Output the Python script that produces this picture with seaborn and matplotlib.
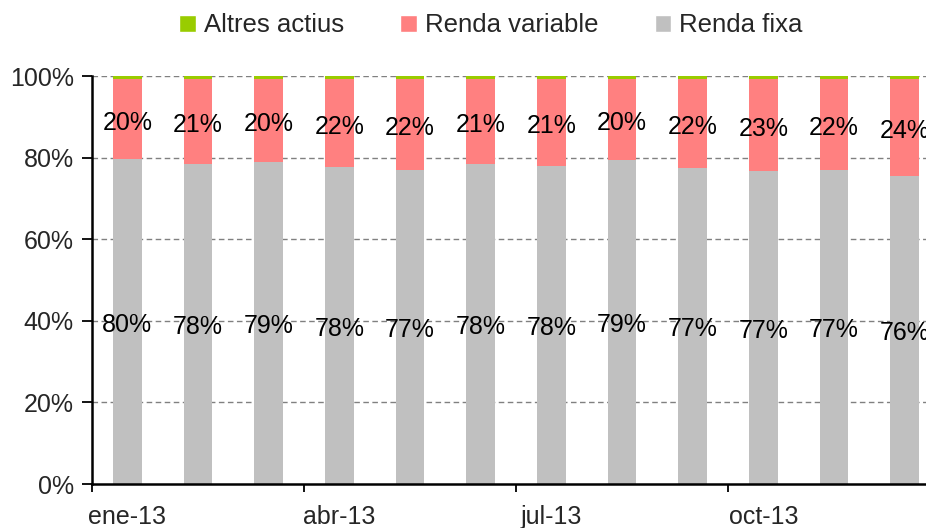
import matplotlib
matplotlib.use("Agg")
import matplotlib.pyplot as plt
import seaborn as sns
import pandas as pd
import numpy as np
from matplotlib.patches import Patch

months = ["ene-13", "feb-13", "mar-13", "abr-13", "may-13", "jun-13",
          "jul-13", "ago-13", "sep-13", "oct-13", "nov-13", "dic-13"]
renda_fixa = [79.6, 78.4, 79.0, 77.6, 77.0, 78.4, 78.0, 79.4, 77.4, 76.6, 77.0, 75.6]
renda_variable = [19.6, 20.8, 20.2, 21.6, 22.2, 20.8, 21.2, 19.8, 21.8, 22.6, 22.2, 23.6]
altres_actius = [0.8, 0.8, 0.8, 0.8, 0.8, 0.8, 0.8, 0.8, 0.8, 0.8, 0.8, 0.8]
tick_months = ["ene-13", "abr-13", "jul-13", "oct-13"]

c_green = "#99CC00"
c_red = "#FF8080"
c_grey = "#C0C0C0"

sns.set_theme(style="white")
plt.rcParams["font.family"] = ["Liberation Sans", "DejaVu Sans"]

df = pd.DataFrame({"month": months, "fixa": renda_fixa,
                   "variable": renda_variable, "altres": altres_actius})
df["cum_var"] = df["fixa"] + df["variable"]
df["cum_all"] = df["cum_var"] + df["altres"]

fig = plt.figure(figsize=(9.26, 5.28), dpi=100)
ax = fig.add_axes([92 / 926, 44 / 528, (940 - 92) / 926, 408 / 528])

w = 0.41
sns.barplot(data=df, x="month", y="cum_all", color=c_green, width=w, ax=ax,
            saturation=1, zorder=2, linewidth=0)
sns.barplot(data=df, x="month", y="cum_var", color=c_red, width=w, ax=ax,
            saturation=1, zorder=3, linewidth=0)
sns.barplot(data=df, x="month", y="fixa", color=c_grey, width=w, ax=ax,
            saturation=1, zorder=4, linewidth=0)

fs = 18
for i, row in df.iterrows():
    ax.text(i, row["fixa"] + row["variable"] / 2 - 0.8, f"{row['variable']:.0f}%",
            ha="center", va="center", fontsize=fs, zorder=6, color="black")
    ax.text(i, row["fixa"] / 2 - 0.8, f"{row['fixa']:.0f}%",
            ha="center", va="center", fontsize=fs, zorder=6, color="black")

ax.set_xlim(-0.5, 11.5)
ax.set_ylim(0, 100)
ax.set_yticks([0, 20, 40, 60, 80, 100])
ax.set_yticklabels([f"{v}%" for v in [0, 20, 40, 60, 80, 100]], fontsize=fs)
for y in [20, 40, 60, 80, 100]:
    ax.axhline(y, color="#808080", linestyle=(0, (4, 2.5)), linewidth=1, zorder=1)

# major ticks at quarter boundaries, labels on minor positions
ax.set_xticks([-0.5, 2.5, 5.5, 8.5, 11.5])
ax.set_xticklabels([])
ax.set_xticks([0, 3, 6, 9], minor=True)
ax.set_xticklabels(tick_months, minor=True, fontsize=fs)
ax.tick_params(axis="x", which="major", direction="out", length=6, width=1.3,
               color="black", bottom=True)
ax.tick_params(axis="x", which="minor", length=0, pad=15)
ax.tick_params(axis="y", direction="out", length=7, width=1.3, color="black",
               left=True, pad=6)
ax.set_xlabel("")
ax.set_ylabel("")

for s in ["top", "right"]:
    ax.spines[s].set_visible(False)
for s in ["left", "bottom"]:
    ax.spines[s].set_color("black")
    ax.spines[s].set_linewidth(1.8)
    ax.spines[s].set_zorder(7)

handles = [Patch(facecolor=c_green, label="Altres actius"),
           Patch(facecolor=c_red, label="Renda variable"),
           Patch(facecolor=c_grey, label="Renda fixa")]
fig.legend(handles=handles, loc="center", bbox_to_anchor=(0.53, 0.952), ncol=3,
           frameon=False, fontsize=18.5, handlelength=0.65, handleheight=0.65,
           handletextpad=0.3, columnspacing=2.2)

fig.savefig("out.png", dpi=100)
